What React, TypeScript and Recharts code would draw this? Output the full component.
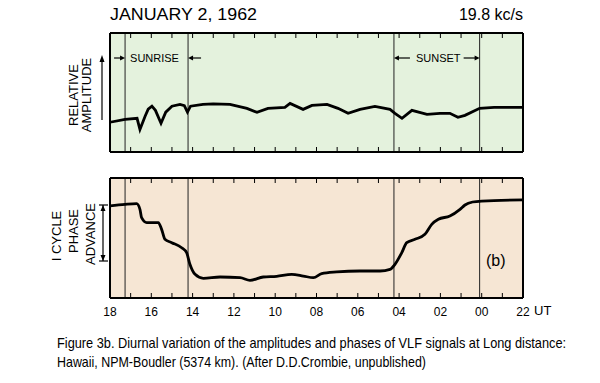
import { LineChart, Line, XAxis, YAxis, ReferenceLine } from "recharts";

// hours counted back from 18 UT (0 = 18 UT, 20 = 22 UT of the previous day)
const ampHours = [0, 0.73, 1.31, 1.45, 1.7, 1.85, 2.03, 2.2, 2.47, 2.7, 3.0, 3.39, 3.6, 3.75, 3.9, 4.5, 5.0, 5.81, 6.63, 7.12, 7.65, 8.47, 8.72, 9.35, 9.78, 10.51, 11.04, 11.53, 12.11, 12.83, 13.56, 13.8, 14.14, 14.62, 15.35, 15.98, 16.46, 16.85, 17.19, 17.9, 18.6, 20];
const ampValues = [2.5, 2.75, 2.83, 1.9, 3.0, 3.6, 3.85, 3.5, 2.42, 3.35, 3.85, 4.0, 3.9, 3.35, 3.85, 4.0, 4.05, 4.0, 3.67, 3.33, 3.67, 3.75, 4.08, 3.58, 3.92, 4.0, 3.67, 3.25, 3.58, 3.83, 3.58, 3.25, 2.83, 3.5, 3.17, 3.25, 3.25, 2.92, 3.08, 3.67, 3.75, 3.75];

const phaseHours = [0, 0.73, 1.29, 1.45, 1.53, 1.78, 2.34, 2.5, 2.66, 2.99, 3.47, 3.71, 3.87, 4.12, 4.52, 5.33, 6.3, 6.78, 7.42, 8.07, 8.8, 9.36, 9.85, 10.25, 10.98, 12.1, 13.08, 13.56, 13.8, 14.13, 14.37, 14.77, 15.25, 15.58, 15.9, 16.46, 16.95, 17.19, 17.56, 18.0, 20];
const phaseValues = [7.67, 7.8, 7.86, 7.39, 6.69, 6.28, 6.28, 5.72, 4.89, 4.61, 4.19, 3.78, 2.81, 1.97, 1.64, 1.75, 1.69, 1.47, 1.75, 1.81, 1.97, 1.83, 1.69, 2.03, 2.17, 2.25, 2.25, 2.39, 2.81, 3.78, 4.61, 4.89, 5.31, 6.14, 6.56, 6.83, 7.39, 7.75, 8.0, 8.08, 8.17];

const sunLines = [0.73, 3.78, 13.75, 17.9];
const hourTicks = [0, 1, 2, 3, 4, 5, 6, 7, 8, 9, 10, 11, 12, 13, 14, 15, 16, 17, 18, 19, 20];
const labelTicks = [0, 2, 4, 6, 8, 10, 12, 14, 16, 18, 20];
const utLabels = ["18", "16", "14", "12", "10", "08", "06", "04", "02", "00", "22"];

const ampData = ampHours.map((h, i) => ({ h, v: ampValues[i] }));
const phaseData = phaseHours.map((h, i) => ({ h, v: phaseValues[i] }));

const L = 110;
const R = 523;
const hx = (h: number) => L + (h * (R - L)) / 20;
const margin = { top: 32, right: 600 - R, bottom: 0, left: L };
const font = "'Liberation Sans', Arial, sans-serif";
const narrow = "'Liberation Sans Narrow', 'Arial Narrow', " + font;

function Arrow({ x1, x2, y }: { x1: number; x2: number; y: number }) {
  const d = x2 > x1 ? 1 : -1;
  return (
    <g>
      <line x1={x1} y1={y} x2={x2 - d * 3} y2={y} stroke="#000" strokeWidth={1.2} />
      <polygon points={`${x2},${y} ${x2 - d * 5},${y - 2.5} ${x2 - d * 5},${y + 2.5}`} fill="#000" />
    </g>
  );
}

const noLabel = () => <g />;

function Panel({ data, type, height, labels }: { data: any[]; type: any; height: number; labels: boolean }) {
  return (
    <LineChart width={600} height={height} data={data} margin={{ ...margin, bottom: labels ? 0 : 8 }}>
      <XAxis xAxisId={0} type="number" dataKey="h" domain={[0, 20]} ticks={hourTicks} interval={0} height={1}
        tickSize={-5} tick={noLabel} axisLine={{ stroke: "#000", strokeWidth: 2 }} tickLine={{ stroke: "#000", strokeWidth: 1 }} />
      <XAxis xAxisId="top" orientation="top" type="number" dataKey="h" domain={[0, 20]} ticks={hourTicks} interval={0} height={1}
        tickSize={-5} tick={noLabel} axisLine={{ stroke: "#000", strokeWidth: 2 }} tickLine={{ stroke: "#000", strokeWidth: 1 }} />
      {labels && (
        <XAxis xAxisId="lab" type="number" dataKey="h" domain={[0, 20]} ticks={labelTicks} interval={0} height={20}
          axisLine={false} tickLine={false} tickSize={0} tickMargin={8}
          tickFormatter={(v: number) => utLabels[v / 2]}
          tick={{ fontSize: 12, fill: "#000", fontFamily: narrow }} />
      )}
      <YAxis hide domain={[0, 10]} />
      <ReferenceLine x={0} stroke="#000" strokeWidth={2} />
      <ReferenceLine x={20} stroke="#000" strokeWidth={2} />
      {sunLines.map((x) => (
        <ReferenceLine key={x} x={x} stroke="#222" strokeWidth={1} />
      ))}
      <Line dataKey="v" type={type} stroke="#000" strokeWidth={2.8} dot={false} isAnimationActive={false} />
    </LineChart>
  );
}

export default function App() {
  return (
    <div style={{ position: "absolute", left: 0, top: 0, width: 600, height: 383, background: "#fff", fontFamily: font }}>
      <svg width={600} height={383} style={{ position: "absolute", left: 0, top: 0 }}>
        <rect x={L} y={32} width={R - L} height={120} fill="#e4f2dd" />
        <rect x={L} y={177} width={R - L} height={120} fill="#f6e6d4" />
      </svg>
      <div style={{ position: "absolute", left: 0, top: 0 }}>
        <Panel data={ampData} type="linear" height={161} labels={false} />
      </div>
      <div style={{ position: "absolute", left: 0, top: 145 }}>
        <Panel data={phaseData} type="monotone" height={174} labels={true} />
      </div>
      <svg width={600} height={383} style={{ position: "absolute", left: 0, top: 0, pointerEvents: "none" }} fontFamily={font}>
        <text x={L} y={20} fontSize={16} textLength={147} lengthAdjust="spacingAndGlyphs" fontFamily={narrow}>JANUARY  2, 1962</text>
        <text x={R} y={20} fontSize={16} textAnchor="end" fontFamily={narrow}>19.8 kc/s</text>

        <Arrow x1={hx(0.73) - 11} x2={hx(0.73)} y={58} />
        <text x={hx(0.73) + 5} y={62} fontSize={11}>SUNRISE</text>
        <Arrow x1={hx(3.78) + 13} x2={hx(3.78)} y={58} />
        <Arrow x1={hx(13.75) + 16} x2={hx(13.75)} y={58} />
        <text x={hx(13.75) + 22} y={62} fontSize={11}>SUNSET</text>
        <Arrow x1={hx(17.9) - 16} x2={hx(17.9)} y={58} />

        <text transform="translate(78,95) rotate(-90)" textAnchor="middle" fontSize={13}>RELATIVE</text>
        <text transform="translate(91,95) rotate(-90)" textAnchor="middle" fontSize={13}>AMPLITUDE</text>
        <line x1={102} y1={120} x2={102} y2={60} stroke="#000" strokeWidth={1.2} />
        <polygon points="102,55 99.5,62 104.5,62" fill="#000" />

        <text transform="translate(61,236) rotate(-90)" textAnchor="middle" fontSize={13}>I  CYCLE</text>
        <text transform="translate(78,231) rotate(-90)" textAnchor="middle" fontSize={13}>PHASE</text>
        <text transform="translate(95,234) rotate(-90)" textAnchor="middle" fontSize={13}>ADVANCE</text>
        <line x1={103} y1={205} x2={103} y2={261} stroke="#000" strokeWidth={1.2} />
        <line x1={99} y1={205} x2={108} y2={205} stroke="#000" strokeWidth={1.2} />
        <line x1={99} y1={261} x2={108} y2={261} stroke="#000" strokeWidth={1.2} />
        <polygon points="103,205 100.5,211 105.5,211" fill="#000" />
        <polygon points="103,261 100.5,255 105.5,255" fill="#000" />

        <text x={486} y={266} fontSize={16}>(b)</text>
        <text x={534} y={315} fontSize={13}>UT</text>

        <text transform="translate(57,348) scale(0.86,1)" fontSize={14} textLength={592} lengthAdjust="spacingAndGlyphs">
          Figure 3b. Diurnal variation of the amplitudes and phases of VLF signals at Long distance:
        </text>
        <text transform="translate(57,367) scale(0.86,1)" fontSize={14} textLength={429} lengthAdjust="spacingAndGlyphs">
          Hawaii, NPM-Boudler (5374 km). (After D.D.Crombie, unpublished)
        </text>
      </svg>
    </div>
  );
}
